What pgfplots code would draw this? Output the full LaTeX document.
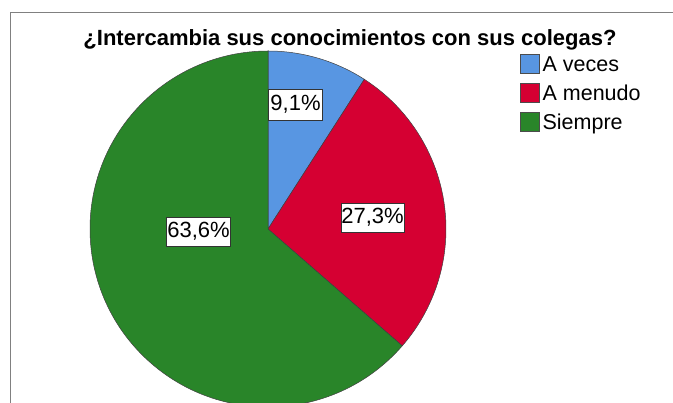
\documentclass[border=0pt]{standalone}
\usepackage{fontspec}
\setmainfont{Liberation Sans}
\usepackage{pgfplots}
\usepackage{pgfplotstable}
\pgfplotsset{compat=1.18}
\definecolor{cBlue}{RGB}{88,150,226}
\definecolor{cRed}{RGB}{213,0,50}
\definecolor{cGreen}{RGB}{41,133,41}
\definecolor{cFrame}{RGB}{128,128,128}
\pgfplotstableread{
pct
9.1
27.3
63.6
}\piedata
\begin{document}
\begin{tikzpicture}[x=1pt,y=1pt]
\useasboundingbox (0,0) rectangle (673,403);
\clip (0,0) rectangle (673,403);
\pgfplotstablegetelem{0}{pct}\of\piedata \let\pA\pgfplotsretval
\pgfplotstablegetelem{1}{pct}\of\piedata \let\pB\pgfplotsretval
\pgfplotstablegetelem{2}{pct}\of\piedata \let\pC\pgfplotsretval
\pgfmathsetmacro\aA{90}
\pgfmathsetmacro\aB{\aA-3.6*\pA}
\pgfmathsetmacro\aC{\aB-3.6*\pB}
\pgfmathsetmacro\aD{\aC-3.6*\pC}
\begin{axis}[
  at={(0,0)}, anchor=south west,
  x=1pt, y=1pt, xmin=0, xmax=673, ymin=0, ymax=403,
  hide axis, clip=false,
  legend image code/.code={\filldraw[#1] (0pt,-7pt) rectangle (19pt,12pt);},
  legend style={at={(axis cs:520,349)}, anchor=north west, draw=none, fill=none,
    inner sep=0pt, outer sep=0pt, font=\fontsize{21.5}{21.5}\selectfont,
    row sep=7pt, nodes={inner sep=0pt, text height=15pt, text depth=4.5pt},
    /tikz/every odd column/.style={column sep=3pt}},
  legend cell align=left,
]
\addlegendimage{fill=cBlue, draw=black!70, line width=0.6pt}
\addlegendentry{A veces}
\addlegendimage{fill=cRed, draw=black!70, line width=0.6pt}
\addlegendentry{A menudo}
\addlegendimage{fill=cGreen, draw=black!70, line width=0.6pt}
\addlegendentry{Siempre}
% frame
\draw[cFrame, line width=1pt] (axis cs:10,-5) -- (axis cs:10,390) -- (axis cs:680,390);
% pie
\filldraw[fill=cBlue, draw=black!75, line width=0.5pt] (axis cs:268,174) -- ++(\aA:178pt) arc[start angle=\aA, end angle=\aB, radius=178pt] -- cycle;
\filldraw[fill=cRed, draw=black!75, line width=0.5pt] (axis cs:268,174) -- ++(\aB:178pt) arc[start angle=\aB, end angle=\aC, radius=178pt] -- cycle;
\filldraw[fill=cGreen, draw=black!75, line width=0.5pt] (axis cs:268,174) -- ++(\aC:178pt) arc[start angle=\aC, end angle=\aD, radius=178pt] -- cycle;
% labels
\node[draw=black!80, fill=white, line width=0.6pt, inner xsep=2pt, minimum height=31pt, font=\fontsize{22}{22}\selectfont] at (axis cs:295.5,298.5) {9,1\%};
\node[draw=black!80, fill=white, line width=0.6pt, inner xsep=0.5pt, minimum height=29pt, font=\fontsize{22}{22}\selectfont] at (axis cs:372.5,185.5) {27,3\%};
\node[draw=black!80, fill=white, line width=0.6pt, inner xsep=1pt, minimum height=29pt, font=\fontsize{22}{22}\selectfont] at (axis cs:198.5,171.5) {63,6\%};
% title
\node[anchor=base, font=\bfseries\fontsize{22}{22}\selectfont] at (axis cs:350,357) {¿Intercambia sus conocimientos con sus colegas?};
\end{axis}
\end{tikzpicture}
\end{document}
